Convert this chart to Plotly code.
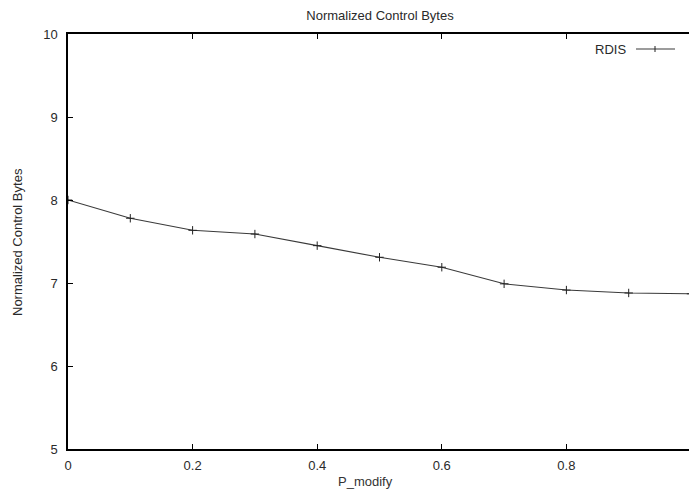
import plotly.graph_objects as go

# Data
p_modify = [0.0, 0.1, 0.2, 0.3, 0.4, 0.5, 0.6, 0.7, 0.8, 0.9, 1.0]
rdis = [8.00, 7.78, 7.635, 7.59, 7.45, 7.31, 7.19, 6.99, 6.915, 6.88, 6.87]
x_ticks = [0, 0.2, 0.4, 0.6, 0.8]
x_tick_labels = ["0", "0.2", "0.4", "0.6", "0.8"]
y_ticks = [5, 6, 7, 8, 9, 10]
series_name = "RDIS"

W, H = 689, 496
ML, MR, MT, MB = 68, 0, 34, 47
PW = W - ML - MR
PH = H - MT - MB

def px_x(px):
    return (px - ML) / PW

def px_y(py):
    return (H - MB - py) / PH

FONT = "Liberation Sans, Arial, sans-serif"
TXT = "#2a2a2a"

fig = go.Figure()
fig.add_trace(go.Scatter(
    x=p_modify, y=rdis, mode="lines+markers", name=series_name,
    line=dict(color="#3a3a3a", width=1.1),
    marker=dict(symbol="cross-thin", size=6, line=dict(color="#222222", width=1)),
    showlegend=False,
))

# legend (gnuplot style: text on the left of the sample)
fig.add_annotation(text=series_name, xref="paper", yref="paper",
                   x=px_x(628), y=px_y(49), xanchor="right", yanchor="middle",
                   showarrow=False, font=dict(family=FONT, size=13, color=TXT))
fig.add_shape(type="line", xref="paper", yref="paper",
              x0=px_x(636), x1=px_x(675), y0=px_y(49), y1=px_y(49),
              line=dict(color="#3a3a3a", width=1.1))
fig.add_shape(type="line", xref="paper", yref="paper",
              x0=px_x(655), x1=px_x(655), y0=px_y(46), y1=px_y(52),
              line=dict(color="#222222", width=1))

# axis titles
fig.add_annotation(text="P_modify", xref="paper", yref="paper",
                   x=px_x(365), y=px_y(481), xanchor="center", yanchor="middle",
                   showarrow=False, font=dict(family=FONT, size=13, color="#333333"))
fig.add_annotation(text="Normalized Control Bytes", xref="paper", yref="paper",
                   x=px_x(18), y=px_y(242), xanchor="center", yanchor="middle",
                   textangle=-90, showarrow=False,
                   font=dict(family=FONT, size=13, color=TXT))

fig.update_layout(
    width=W, height=H,
    margin=dict(l=ML, r=MR, t=MT, b=MB, pad=0),
    paper_bgcolor="white", plot_bgcolor="white",
    title=dict(text="Normalized Control Bytes", xref="container", yref="container",
               x=380 / W, y=1 - 15 / H, xanchor="center", yanchor="middle",
               font=dict(family=FONT, size=13, color=TXT)),
    xaxis=dict(range=[0, (W - ML) / 623.0], tickvals=x_ticks, ticktext=x_tick_labels,
               ticks="inside", ticklen=5, tickwidth=1, tickcolor="black",
               showline=True, linecolor="black", linewidth=1.5, mirror="allticks",
               showgrid=False, zeroline=False, ticklabelstandoff=4,
               tickfont=dict(family=FONT, size=13, color=TXT)),
    yaxis=dict(range=[5, 10], tickvals=y_ticks,
               ticks="inside", ticklen=5, tickwidth=1, tickcolor="black",
               showline=True, linecolor="black", linewidth=1.5, mirror=False,
               showgrid=False, zeroline=False, ticklabelstandoff=6,
               tickfont=dict(family=FONT, size=13, color=TXT)),
)

fig.write_html("out.html")
